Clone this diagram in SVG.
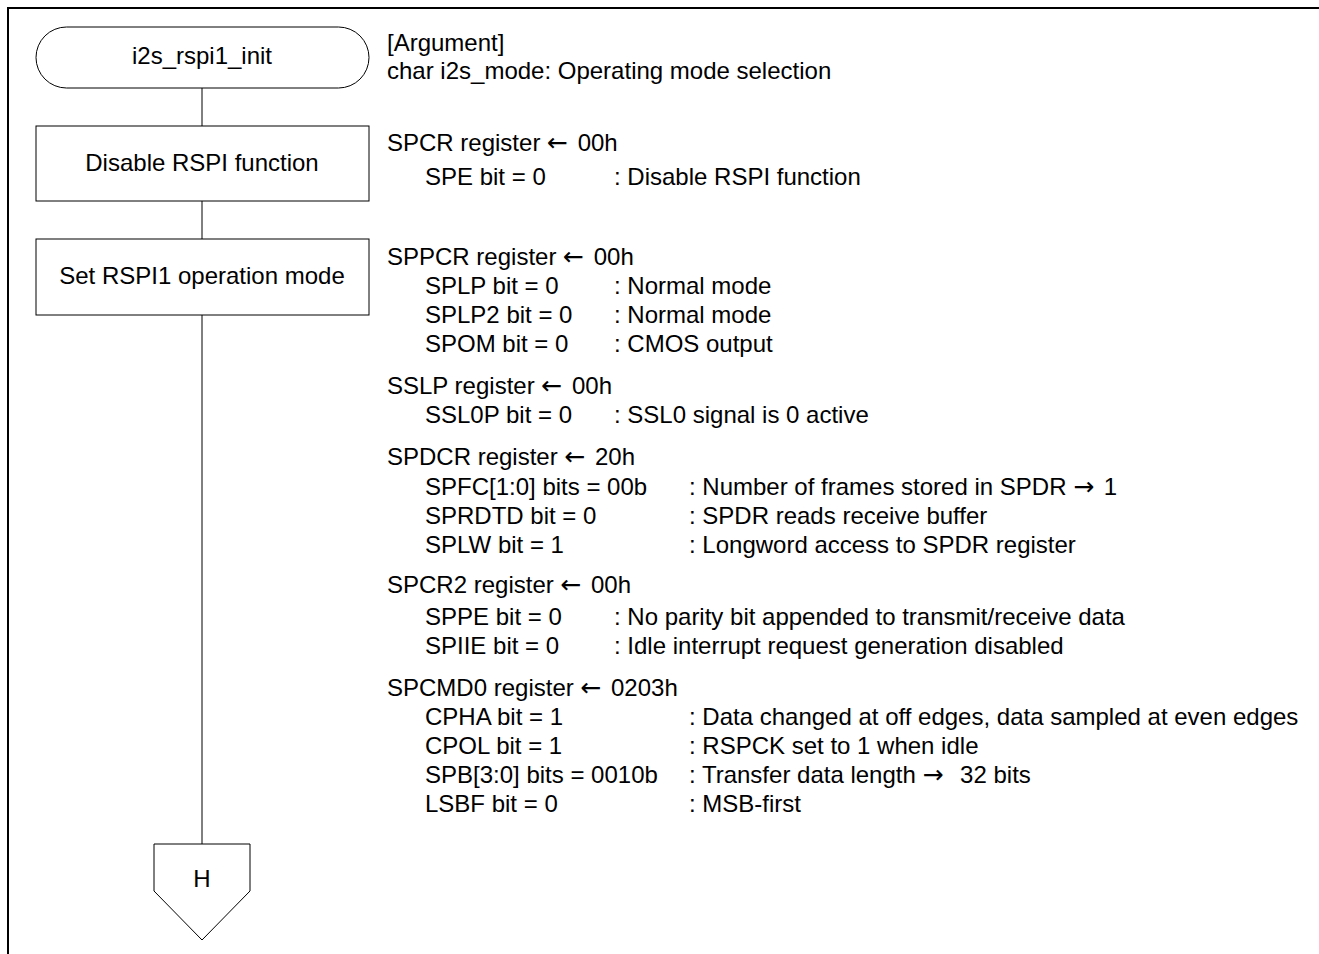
<svg xmlns="http://www.w3.org/2000/svg" width="1319" height="954" viewBox="0 0 1319 954">
<style>
text{font-family:"Liberation Sans",Arial,sans-serif;font-size:24px;fill:#000}
.c{text-anchor:middle}
.ar{font-family:"DejaVu Sans",sans-serif;font-size:25px}
.shape{fill:#fff;stroke:#000;stroke-width:1}
.conn{stroke:#000;stroke-width:1;fill:none}
.frame{stroke:#000;stroke-width:2;fill:none}
</style>
<rect width="1319" height="954" fill="#fff"/>
<path class="frame" d="M8,954 V8 H1319"/>
<g id="connectors">
<line class="conn" x1="202" y1="88" x2="202" y2="126"/>
<line class="conn" x1="202" y1="201" x2="202" y2="239"/>
<line class="conn" x1="202" y1="315" x2="202" y2="844"/>
</g>
<g id="start">
<rect class="shape" x="36" y="27" width="333" height="61" rx="30.5" ry="30.5"/>
<text class="c" x="202" y="64">i2s_rspi1_init</text>
</g>
<g id="disable">
<rect class="shape" x="36" y="126" width="333" height="75"/>
<text class="c" x="202" y="171">Disable RSPI function</text>
</g>
<g id="setmode">
<rect class="shape" x="36" y="239" width="333" height="76"/>
<text class="c" x="202" y="284">Set RSPI1 operation mode</text>
</g>
<g id="offpage">
<path class="shape" d="M154,844 H250 V891 L202,940 L154,891 Z"/>
<text class="c" x="202" y="887">H</text>
</g>
<g id="notes">
<text x="387" y="51">[Argument]</text>
<text x="387" y="79">char i2s_mode: Operating mode selection</text>
<text x="387" y="151">SPCR register <tspan class="ar">←</tspan><tspan dx="3"> 00h</tspan></text>
<text x="425" y="185">SPE bit = 0</text><text x="614" y="185">: Disable RSPI function</text>
<text x="387" y="265">SPPCR register <tspan class="ar">←</tspan><tspan dx="3"> 00h</tspan></text>
<text x="425" y="294">SPLP bit = 0</text><text x="614" y="294">: Normal mode</text>
<text x="425" y="323">SPLP2 bit = 0</text><text x="614" y="323">: Normal mode</text>
<text x="425" y="352">SPOM bit = 0</text><text x="614" y="352">: CMOS output</text>
<text x="387" y="394">SSLP register <tspan class="ar">←</tspan><tspan dx="3"> 00h</tspan></text>
<text x="425" y="423">SSL0P bit = 0</text><text x="614" y="423">: SSL0 signal is 0 active</text>
<text x="387" y="465">SPDCR register <tspan class="ar">←</tspan><tspan dx="3"> 20h</tspan></text>
<text x="425" y="495">SPFC[1:0] bits = 00b</text><text x="689" y="495">: Number of frames stored in SPDR <tspan class="ar">→</tspan><tspan dx="3"> 1</tspan></text>
<text x="425" y="524">SPRDTD bit = 0</text><text x="689" y="524">: SPDR reads receive buffer</text>
<text x="425" y="553">SPLW bit = 1</text><text x="689" y="553">: Longword access to SPDR register</text>
<text x="387" y="593">SPCR2 register <tspan class="ar">←</tspan><tspan dx="3"> 00h</tspan></text>
<text x="425" y="625">SPPE bit = 0</text><text x="614" y="625">: No parity bit appended to transmit/receive data</text>
<text x="425" y="654">SPIIE bit = 0</text><text x="614" y="654">: Idle interrupt request generation disabled</text>
<text x="387" y="696">SPCMD0 register <tspan class="ar">←</tspan><tspan dx="3"> 0203h</tspan></text>
<text x="425" y="725">CPHA bit = 1</text><text x="689" y="725">: Data changed at off edges, data sampled at even edges</text>
<text x="425" y="754">CPOL bit = 1</text><text x="689" y="754">: RSPCK set to 1 when idle</text>
<text x="425" y="783">SPB[3:0] bits = 0010b</text><text x="689" y="783">: Transfer data length <tspan class="ar">→</tspan><tspan dx="10"> 32 bits</tspan></text>
<text x="425" y="812">LSBF bit = 0</text><text x="689" y="812">: MSB-first</text>
</g>
</svg>
